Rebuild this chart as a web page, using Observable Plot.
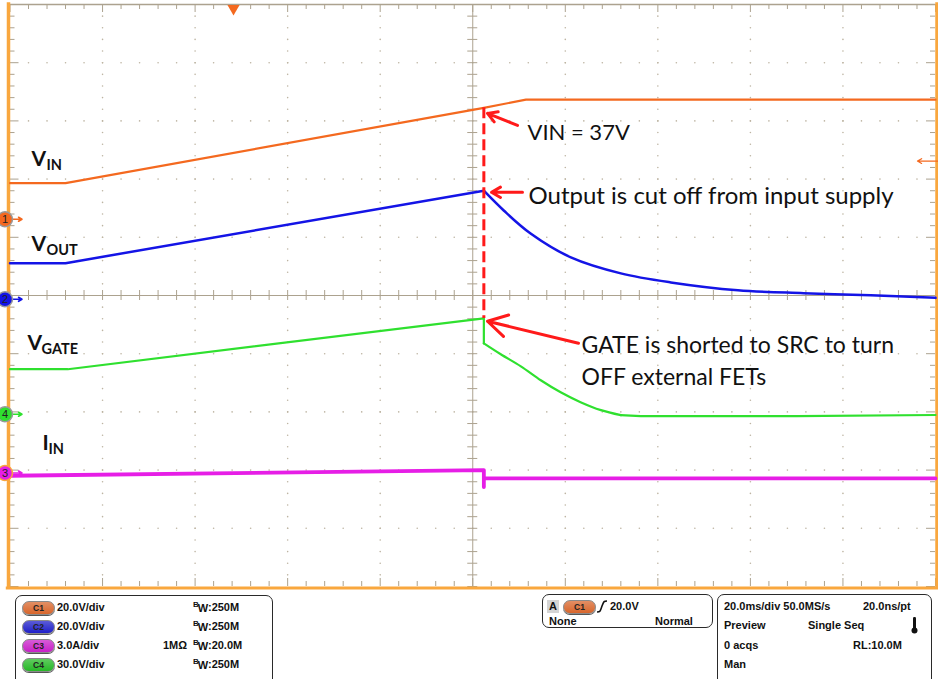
<!DOCTYPE html>
<html><head><meta charset="utf-8">
<script src="https://cdn.jsdelivr.net/npm/d3@7"></script>
<script src="https://cdn.jsdelivr.net/npm/@observablehq/plot@0.6"></script>
<style>
html,body{margin:0;padding:0;background:#fff}
body{width:938px;height:679px;overflow:hidden;font-family:"Liberation Sans",Arial,sans-serif}
#wrap{position:relative;width:938px;height:679px}
#chart svg{display:block}
#panel{position:absolute;left:0;top:591px;width:938px;height:88px}
.box{position:absolute;border:1.5px solid #2a2a2a;border-radius:7px;background:#fff;box-sizing:border-box}
.t{position:absolute;font-weight:bold;font-size:11px;color:#111;white-space:nowrap;line-height:13px}
.pill{position:absolute;width:31px;height:12px;border-radius:7px;font-size:8.5px;font-weight:bold;text-align:center;line-height:12px;color:#222;border:1px solid #8a8a8a;box-shadow:0 1px 0 #555}
</style></head>
<body><div id="wrap"><div id="chart"></div><div id="panel"></div></div>
<script>
// ---------------- data ----------------
const timeDomain = [-100, 100];          // ms, 20 ms/div x 10 div
const divDomain = [-5, 5];               // vertical divisions

const channelNames = ["C1", "C2", "C3", "C4"];
const channelNumbers = ["1", "2", "3", "4"];
const channelColors = ["#f4691f", "#1414e6", "#e61ee6", "#2fe02f"];
const channelPillColors = ["#d8662c", "#2020c8", "#c820c8", "#26b826"];
const channelPerDiv = [20, 20, 3, 30];
const channelOffsetDiv = [1.31, -0.065, -3.05, -2.04];
const channelScaleText = ["20.0V/div", "20.0V/div", "3.0A/div", "30.0V/div"];
const channelImpedance = ["", "", "1MΩ", ""];
const channelBandwidth = ["250M", "250M", "20.0M", "250M"];

// C1 : V_IN (V)
const vinTime = [-100, -88, 2.4, 11.5, 100];
const vinVolts = [12.4, 12.4, 38.3, 41.1, 41.1];
// C2 : V_OUT (V)
const voutTime = [-100, -88, 2.4, 6.7, 12.5, 21.2, 32.0, 42.8, 57.3, 71.5, 86.0, 100];
const voutVolts = [12.4, 12.4, 37.3, 30.5, 22.6, 14.4, 8.9, 5.8, 3.1, 2.1, 1.4, 0.5];
// C4 : V_GATE (V)
const vgateTime = [-100, -87.5, 2.4, 2.4, 6.05, 10.4, 14.7, 19.0, 23.3, 27.7, 32.0, 36.3, 70, 100];
const vgateVolts = [23.2, 23.2, 49.4, 36.5, 30.9, 24.7, 17.5, 11.3, 6.2, 2.1, -0.5, -1.0, -1.0, -0.4];
// C3 : I_IN (A)
const iinTime = [-100, 2.4, 2.4, 2.4, 100];
const iinAmps = [-0.14, 0.15, -0.72, -0.28, -0.28];

const cutoffTime = 2.4;
const triggerTime = -51.7;
const triggerLevel = 20;   // V on C1

// trace labels (time ms, divisions)
const labelMain = ["V", "V", "V", "I"];
const labelSub = ["IN", "OUT", "GATE", "IN"];
const labelTime = [-95.35, -95.35, -96.22, -92.98];
const labelDiv = [2.219, 0.760, -0.940, -2.657];
const labelSubTime = [-92.11, -92.11, -93.19, -91.68];
const labelSubDiv = [2.150, 0.691, -1.009, -2.725];

// red annotations
const noteText = ["VIN = 37V", "Output is cut off from input supply", "GATE is shorted to SRC to turn\nOFF external FETs"];
const noteTime = [11.83, 12.05, 23.5];
const noteDiv = [2.665, 1.567, -1.541];
const arrowFromTime = [9.67, 10.75, 22.85];
const arrowFromDiv = [2.923, 1.773, -0.820];
const arrowToTime = [3.19, 4.05, 3.19];
const arrowToDiv = [3.129, 1.773, -0.442];
const noteFontSize = [22, 24, 23];

// status panel text
const triggerBoxText = ["A", "C1", "20.0V", "None", "Normal"];
const timebaseText = ["20.0ms/div 50.0MS/s", "20.0ns/pt", "Preview", "Single Seq", "0 acqs", "RL:10.0M", "Man"];

// ---------------- build ----------------
const W = 938, H = 591, mL = 9.5, mR = 3, mT = 4, mB = 5;
const pxMs = (timeDomain[1] - timeDomain[0]) / (W - mL - mR);
const pxDiv = (divDomain[1] - divDomain[0]) / (H - mT - mB);
const toDiv = (v, ci) => v / channelPerDiv[ci] + channelOffsetDiv[ci];
const trace = (times, vals, ci) => times.map((t, i) => ({t, d: toDiv(vals[i], ci), i}));

const vin = trace(vinTime, vinVolts, 0);
const vout = trace(voutTime, voutVolts, 1);
const iin = trace(iinTime, iinAmps, 2);
const vgate = trace(vgateTime, vgateVolts, 3);
const voutRise = vout.filter(p => p.t <= cutoffTime);
const voutDecay = vout.filter(p => p.t >= cutoffTime);
const gateDropIdx = vgateTime.lastIndexOf(cutoffTime);
const vgateRise = vgate.filter(p => p.i <= gateDropIdx);
const vgateDecay = vgate.filter(p => p.i >= gateDropIdx && p.i < vgate.length - 3);
const vgateTail = vgate.filter(p => p.i >= vgate.length - 4);

const tan = "#aca28f";
const frameOrange = "#f9a73e";
const red = "#ff1a1a";

const minorX = d3.range(-100, 100.001, 4);
const minorY = d3.range(-5, 5.0001, 0.2).map(v => Math.round(v * 10) / 10);
const majorX = d3.range(-80, 81, 20).filter(v => v !== 0);
const majorY = d3.range(-4, 5, 1).filter(v => v !== 0);
const isMajorX = t => Math.abs(t / 20 - Math.round(t / 20)) < 1e-6;
const isMajorY = d => Math.abs(d - Math.round(d)) < 1e-6;

const gridDots = [];
for (const x of majorX) for (const y of minorY) if (Math.abs(y) < 5) gridDots.push({x, y});
for (const y of majorY) for (const x of minorX) if (Math.abs(x) < 100) gridDots.push({x, y});

const channels = channelNames.map((n, i) => ({n: channelNumbers[i], c: channelColors[i], d: channelOffsetDiv[i], i}));
const labels = labelMain.map((m, i) => ({m, s: labelSub[i], t: labelTime[i], d: labelDiv[i], ts: labelSubTime[i], ds: labelSubDiv[i]}));
const notes = noteText.map((text, i) => ({text, t: noteTime[i], d: noteDiv[i], fs: noteFontSize[i]}));
const arrows = arrowFromTime.map((t, i) => ({x1: t, y1: arrowFromDiv[i], x2: arrowToTime[i], y2: arrowToDiv[i]}));
const cutVin = toDiv(d3.max(vinVolts.filter((v, i) => vinTime[i] <= cutoffTime)), 0);
const cutGate = toDiv(d3.max(vgateVolts), 3);
const trigDiv = toDiv(triggerLevel, 0);

const chart = Plot.plot({
  width: W, height: H, marginLeft: mL, marginRight: mR, marginTop: mT, marginBottom: mB,
  x: {domain: timeDomain, axis: null},
  y: {domain: divDomain, axis: null},
  r: {type: "identity"},
  style: {background: "white", overflow: "visible"},
  marks: [
    Plot.dot(gridDots, {x: "x", y: "y", r: 0.8, fill: "#bdb4a2", stroke: null}),
    Plot.ruleX([0], {stroke: tan, strokeWidth: 1}),
    Plot.ruleY([0], {stroke: tan, strokeWidth: 1}),
    Plot.ruleX(minorX, {x: d => d, y1: -5 * pxDiv, y2: 5 * pxDiv, stroke: tan}),
    Plot.ruleY(minorY, {y: d => d, x1: -5 * pxMs, x2: 5 * pxMs, stroke: tan}),
    // edges
    Plot.ruleY([5], {stroke: tan, strokeWidth: 1.5}),
    Plot.ruleX(minorX, {x: d => d, y1: 5, y2: d => 5 - (isMajorX(d) ? 8 : 5) * pxDiv, stroke: tan}),
    Plot.ruleX(minorX, {x: d => d, y1: -5, y2: d => -5 + (isMajorX(d) ? 8 : 5) * pxDiv, stroke: tan}),
    Plot.ruleY(minorY, {y: d => d, x1: -100, x2: d => -100 + (isMajorY(d) ? 9 : 5) * pxMs, stroke: tan}),
    Plot.ruleY(minorY, {y: d => d, x1: 100, x2: d => 100 - (isMajorY(d) ? 9 : 5) * pxMs, stroke: tan}),
    Plot.ruleX([-100], {y1: 5.03, y2: -5.05, stroke: frameOrange, strokeWidth: 3.5, dx: -1.5}),
    Plot.ruleX([100], {y1: 5.03, y2: -5.05, stroke: frameOrange, strokeWidth: 3.5, dx: 1.5}),
    Plot.ruleY([-5], {x1: -100.8, x2: 100.8, stroke: frameOrange, strokeWidth: 3, dy: 1.5}),
    // traces
    Plot.line(iin, {x: "t", y: "d", stroke: channelColors[2], strokeWidth: 3.8}),
    Plot.line(vgateRise, {x: "t", y: "d", stroke: channelColors[3], strokeWidth: 2.2}),
    Plot.line(vgateDecay, {x: "t", y: "d", stroke: channelColors[3], strokeWidth: 2.2, curve: "catmull-rom"}),
    Plot.line(vgateTail, {x: "t", y: "d", stroke: channelColors[3], strokeWidth: 2.2}),
    Plot.line(voutRise, {x: "t", y: "d", stroke: channelColors[1], strokeWidth: 2.5}),
    Plot.line(voutDecay, {x: "t", y: "d", stroke: channelColors[1], strokeWidth: 2.5, curve: "catmull-rom"}),
    Plot.line(vin, {x: "t", y: "d", stroke: channelColors[0], strokeWidth: 2.2}),
    // channel offset markers
    Plot.arrow(channels, {x1: -100, x2: -97.4, y1: "d", y2: "d", stroke: "c", strokeWidth: 1.6, headLength: 5}),
    Plot.dot(channels, {x: -100, y: "d", dx: -5, r: 7.5, fill: "c", stroke: d => d.i === 2 ? frameOrange : "#9a9a9a", strokeWidth: 1.5}),
    Plot.text(channels, {x: -100, y: "d", dx: -5, text: "n", fill: "#222", fontSize: 11, fontFamily: "Liberation Sans"}),
    // trigger markers
    Plot.dot([triggerTime], {x: d => d, y: 5, dy: 4, symbol: "triangle", rotate: 180, r: 4.5, fill: channelColors[0], stroke: null}),
    Plot.arrow([trigDiv], {x1: 100.6, x2: 96.1, y1: d => d, y2: d => d, stroke: channelColors[0], strokeWidth: 1.2, headLength: 6}),
    // labels
    Plot.text(labels, {x: "t", y: "d", text: "m", textAnchor: "start", lineAnchor: "bottom", fontFamily: "Lato", fontWeight: "bold", fontSize: 21, fill: "#111"}),
    Plot.text(labels, {x: "ts", y: "ds", text: "s", textAnchor: "start", lineAnchor: "bottom", fontFamily: "Lato", fontWeight: "bold", fontSize: 14.5, fill: "#111"}),
    // red annotations
    Plot.ruleX([cutoffTime], {x: d => d, y1: cutVin, y2: cutGate, stroke: red, strokeWidth: 3, strokeDasharray: "11,5"}),
    Plot.arrow(arrows, {x1: "x1", y1: "y1", x2: "x2", y2: "y2", stroke: red, strokeWidth: 3, headLength: 11, headAngle: 60}),
    Plot.text(notes, {x: "t", y: "d", text: "text", textAnchor: "start", lineAnchor: "bottom", lineHeight: 1.4, fontFamily: "Lato", fontSize: "fs", fill: "#111"})
  ]
});
document.getElementById("chart").appendChild(chart);

// ---------------- status panel ----------------
const panel = document.getElementById("panel");
function el(cls, style, html) {
  const e = document.createElement("div");
  e.className = cls; e.setAttribute("style", style); e.innerHTML = html || "";
  panel.appendChild(e); return e;
}
const bw = v => `<span style="font-size:8px;position:relative;top:-4px">B</span><span style="position:relative;top:1px;margin-left:-1px">W</span>:${v}`;
el("box", "left:15px;top:4px;width:258px;height:110px");
const rowTop = [9.5, 28.5, 47.5, 66.5];
channelNames.forEach((n, i) => {
  el("pill", `left:22px;top:${rowTop[i] + 0.5}px;background:linear-gradient(${channelPillColors[i]}bb,${channelPillColors[i]})`, n);
  el("t", `left:57px;top:${rowTop[i]}px`, channelScaleText[i]);
  if (channelImpedance[i]) el("t", `left:163px;top:${rowTop[i]}px`, channelImpedance[i]);
  el("t", `left:193px;top:${rowTop[i]}px`, bw(channelBandwidth[i]));
});
el("box", "left:542px;top:3px;width:171px;height:34px");
el("t", "left:547px;top:8.5px;background:#d4d4d4;padding:0 2px;", triggerBoxText[0]);
el("pill", `left:563px;top:9px;background:linear-gradient(${channelPillColors[0]}bb,${channelPillColors[0]})`, triggerBoxText[1]);
el("t", "left:596px;top:8.5px", '<svg width="12" height="13" style="display:block"><path d="M1,12 C4,12 4,12 6,6 C8,1 8,1 11,1" fill="none" stroke="#111" stroke-width="1.6"/></svg>');
el("t", "left:610px;top:8.5px", triggerBoxText[2]);
el("t", "left:549px;top:23.5px", triggerBoxText[3]);
el("t", "left:655px;top:23.5px", triggerBoxText[4]);
el("box", "left:717px;top:3px;width:215px;height:110px");
el("t", "left:724px;top:8.5px", timebaseText[0]);
el("t", "left:863px;top:8.5px", timebaseText[1]);
el("t", "left:724px;top:27.5px", timebaseText[2]);
el("t", "left:808px;top:27.5px", timebaseText[3]);
el("t", "left:911px;top:26px", '<svg width="7" height="17" style="display:block"><rect x="2" y="0" width="3" height="12" rx="1.2" fill="#111"/><circle cx="3.5" cy="13.5" r="3" fill="#111"/></svg>');
el("t", "left:724px;top:47.5px", timebaseText[4]);
el("t", "left:853px;top:47.5px", timebaseText[5]);
el("t", "left:724px;top:66.5px", timebaseText[6]);
</script>
</body></html>
